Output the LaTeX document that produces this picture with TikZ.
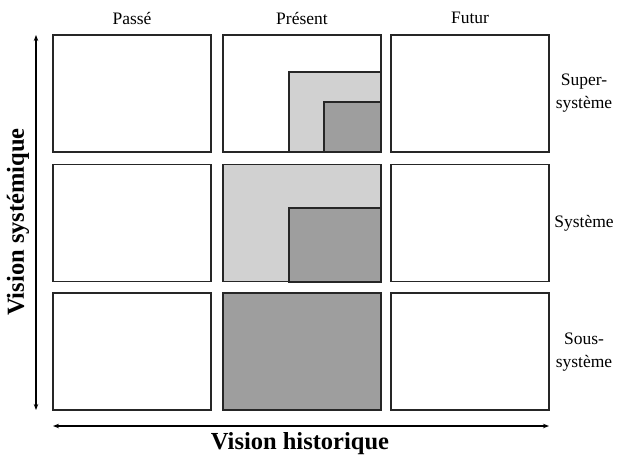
\documentclass[tikz,border=0pt]{standalone}
\usepackage{fontspec}
\setmainfont{Liberation Serif}
\usetikzlibrary{arrows.meta}
\definecolor{lightfill}{gray}{0.82}
\definecolor{darkfill}{gray}{0.62}
\tikzset{
  panel/.style={draw=black!85,line width=1.4pt,minimum width=158pt,minimum height=117pt,inner sep=0pt},
  zone/.style={draw=black!85,line width=1.4pt},
  lightzone/.style={zone,fill=lightfill},
  darkzone/.style={zone,fill=darkfill},
  lbl/.style={font=\fontsize{17.5}{23}\selectfont,align=center,inner sep=0pt},
  axis/.style={line width=1.1pt,{Stealth[length=6pt,width=4.5pt]}-{Stealth[length=6pt,width=4.5pt]}},
  axislbl/.style={font=\fontsize{24.5}{28}\selectfont\bfseries,inner sep=0pt}
}
\begin{document}
\begin{tikzpicture}[x=1pt,y=-1pt]
\useasboundingbox (0,0) rectangle (620,459);
% fills of middle column
\draw[lightzone] (289,72) -- (381,72) -- (381,152) -- (289,152) -- cycle;
\draw[darkzone] (324,102) rectangle (381,152);
\fill[lightfill] (223,164) rectangle (381,282);
\draw[darkzone] (289,208) rectangle (381,282);
\fill[darkfill] (223,293) rectangle (381,410);
% panels
\node[panel] (p11) at (132,93.5) {};
\node[panel] (p12) at (302,93.5) {};
\node[panel] (p13) at (470,93.5) {};
\node[panel] (p21) at (132,223) {};
\node[panel] (p22) at (302,223) {};
\node[panel] (p23) at (470,223) {};
\node[panel] (p31) at (132,351.5) {};
\node[panel] (p32) at (302,351.5) {};
\node[panel] (p33) at (470,351.5) {};
% column labels
\node[lbl] (c1) at (132,18) {Passé};
\node[lbl] (c2) at (302,18) {Présent};
\node[lbl] (c3) at (470,18) {Futur};
% row labels
\node[lbl] (r1) at (584,93) {Super-\\système};
\node[lbl] (r2) at (584,223) {Système};
\node[lbl] (r3) at (584,352) {Sous-\\système};
% axes
\coordinate (vt) at (36,35);
\coordinate (vb) at (36,410);
\coordinate (hl) at (53,426);
\coordinate (hr) at (549,426);
\draw[axis] (vt) -- (vb);
\draw[axis] (hl) -- (hr);
\node[axislbl] (ah) at (300,444) {Vision historique};
\node[axislbl,rotate=90] (av) at (18,222) {Vision systémique};
\end{tikzpicture}
\end{document}
